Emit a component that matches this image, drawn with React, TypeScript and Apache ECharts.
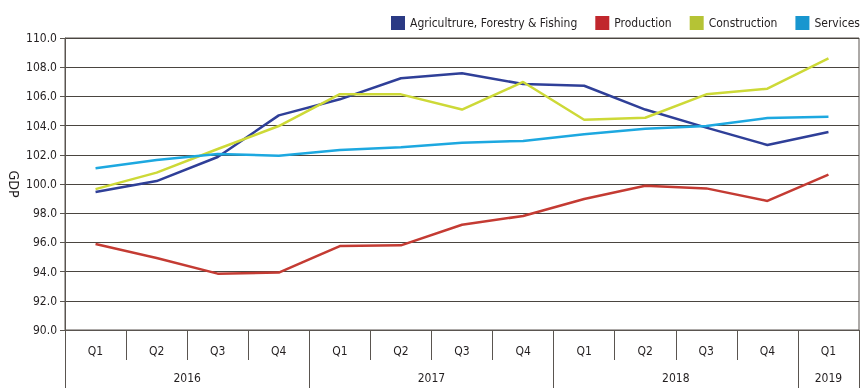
import React, { useEffect, useRef } from 'react';
import * as echarts from 'echarts';

const quarters = ['Q1', 'Q2', 'Q3', 'Q4', 'Q1', 'Q2', 'Q3', 'Q4', 'Q1', 'Q2', 'Q3', 'Q4', 'Q1'];
const years = ['2016', '2017', '2018', '2019'];
const yearQuarterCounts = [4, 4, 4, 1];

const agriculture = [99.45, 100.2, 101.85, 104.7, 105.8, 107.24, 107.58, 106.85, 106.73, 105.1, 103.86, 102.67, 103.56];
const production = [95.89, 94.93, 93.86, 93.93, 95.75, 95.8, 97.21, 97.81, 98.97, 99.88, 99.7, 98.84, 100.64];
const construction = [99.65, 100.78, 102.4, 103.97, 106.15, 106.14, 105.1, 106.99, 104.4, 104.54, 106.14, 106.53, 108.6];
const services = [101.08, 101.64, 102.05, 101.94, 102.33, 102.51, 102.83, 102.95, 103.4, 103.79, 103.97, 104.52, 104.61];

const seriesNames = ['Agricultrure, Forestry & Fishing', 'Production', 'Construction', 'Services'];
const seriesData = [agriculture, production, construction, services];
const lineColors = ['#2f3f98', '#c43b33', '#cdd937', '#1da8e0'];
const legendColors = ['#2b3a84', '#c1272d', '#b5c335', '#1896cf'];

const FONT = '"DejaVu Sans Condensed", "Liberation Sans Narrow", "Roboto", sans-serif';

export default function App() {
  const ref = useRef<HTMLDivElement>(null);
  useEffect(() => {
    if (!ref.current) return;
    const chart = echarts.init(ref.current, null, { renderer: 'svg' });

    const boundaries: number[] = [0];
    yearQuarterCounts.forEach((c) => boundaries.push(boundaries[boundaries.length - 1] + c));
    const centers = yearQuarterCounts.map((c, i) => boundaries[i] + c / 2);

    chart.setOption({
      animation: false,
      textStyle: { fontFamily: FONT },
      legend: {
        left: 386,
        top: 11,
        width: 520,
        itemWidth: 14,
        itemHeight: 14,
        itemGap: 18,
        icon: 'rect',
        textStyle: { fontFamily: FONT, fontSize: 12, color: '#231f20' },
        data: seriesNames.map((n, i) => ({ name: n, itemStyle: { color: legendColors[i] } })),
      },
      grid: {
        left: 65,
        right: 3,
        top: 38,
        bottom: 58,
        containLabel: false,
        outerBoundsMode: 'none',
        show: true,
        borderColor: '#5a5550',
        borderWidth: 1,
      },
      xAxis: [
        {
          type: 'category',
          data: quarters,
          boundaryGap: true,
          axisLine: { show: true, lineStyle: { color: '#5a5550', width: 1 } },
          axisTick: { show: true, interval: 0, length: 30, lineStyle: { color: '#5a5550' } },
          axisLabel: { interval: 0, margin: 15, fontFamily: FONT, fontSize: 12, color: '#231f20' },
          splitLine: { show: false },
        },
        {
          type: 'value',
          position: 'bottom',
          min: 0,
          max: quarters.length,
          axisLine: { show: false },
          axisTick: {
            show: true,
            length: 58,
            customValues: boundaries,
            lineStyle: { color: '#5a5550' },
          },
          axisLabel: {
            show: true,
            customValues: centers,
            margin: 42,
            fontFamily: FONT,
            fontSize: 12,
            color: '#231f20',
            formatter: (v: number) => {
              const idx = centers.findIndex((c) => Math.abs(c - v) < 1e-6);
              return idx >= 0 ? years[idx] : '';
            },
          },
          splitLine: { show: false },
        },
      ],
      yAxis: {
        type: 'value',
        min: 90,
        max: 110,
        interval: 2,
        name: 'GDP',
        nameLocation: 'middle',
        nameRotate: -90,
        nameGap: 44,
        nameMoveOverlap: false,
        nameTextStyle: { fontFamily: FONT, fontSize: 14, color: '#231f20' },
        axisLine: { show: true, lineStyle: { color: '#5a5550', width: 1 } },
        axisTick: { show: true, length: 5, lineStyle: { color: '#5a5550' } },
        axisLabel: {
          margin: 8,
          fontFamily: FONT,
          fontSize: 12,
          color: '#231f20',
          formatter: (v: number) => v.toFixed(1),
        },
        splitLine: { show: true, lineStyle: { color: '#4a4540', width: 1 } },
      },
      series: seriesNames.map((n, i) => ({
        name: n,
        type: 'line',
        xAxisIndex: 0,
        data: seriesData[i],
        symbol: 'none',
        lineStyle: { color: lineColors[i], width: 2.5 },
        itemStyle: { color: legendColors[i] },
      })),
    });
    return () => chart.dispose();
  }, []);
  return <div ref={ref} style={{ position: 'fixed', left: 0, top: 0, width: 862, height: 388 }} />;
}
